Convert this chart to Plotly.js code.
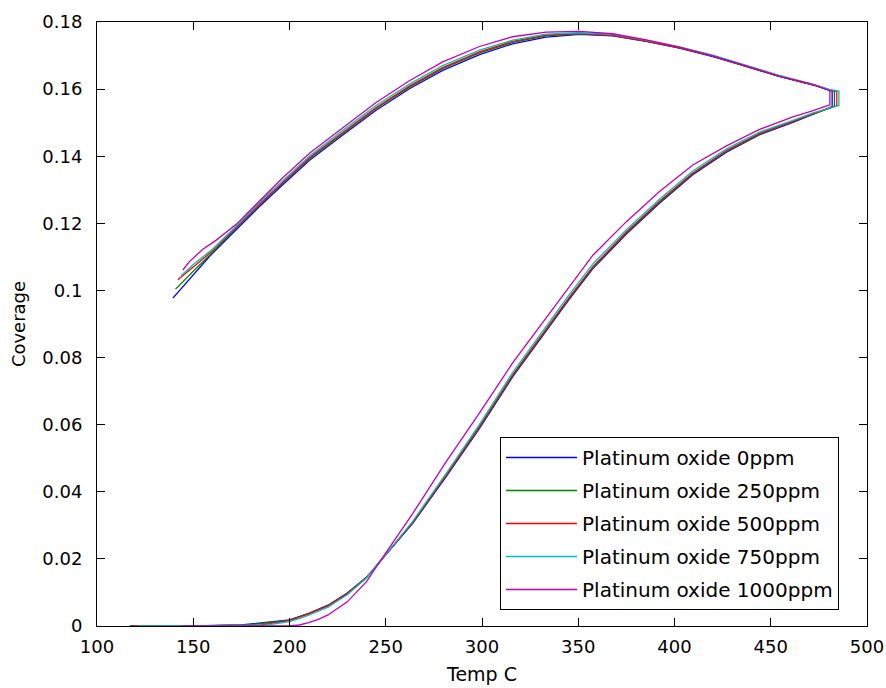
<!DOCTYPE html>
<html>
<head>
<meta charset="utf-8">
<script src="https://cdn.plot.ly/plotly-3.0.1.min.js"></script>
<style>html,body{margin:0;padding:0;background:#fff;}#chart{width:886px;height:688px;}</style>
</head>
<body>
<div id="chart"></div>
<script>
// ---- Data ----
const seriesNames = ['Platinum oxide 0ppm','Platinum oxide 250ppm','Platinum oxide 500ppm','Platinum oxide 750ppm','Platinum oxide 1000ppm'];
const seriesColors = ['#0000FF','#008000','#FF0000','#00BFBF','#BF00BF'];

// 0 ppm
const t0 = [117,150,175,188,200,205,210,220,230,240,248.5,264,281.4,298.7,316,330,345.5,357.6,375,392.2,409.5,427,444.2,461.5,472,481.9,
            481.9,480.5,471.8,454.5,437.2,419.9,402.6,385.3,367.9,350.6,333.3,315.9,298.7,279.6,262.3,245,227.7,210.4,196.5,184.4,172.3,158.4,139.4];
const c0 = [0,0,0.0003,0.001,0.0018,0.0028,0.0038,0.0062,0.0098,0.0145,0.0202,0.0306,0.0445,0.0589,0.0743,0.0853,0.0975,0.1065,0.1168,0.1260,0.1345,0.1412,0.1464,0.1501,0.1524,0.1548,
            0.1594,0.1597,0.1613,0.1638,0.1668,0.1697,0.1722,0.1742,0.1759,0.1763,0.1755,0.1735,0.1703,0.1656,0.1601,0.1537,0.1463,0.1388,0.1315,0.1250,0.1181,0.1101,0.0977];

// 250 ppm
const t1 = [118,150,178,190,200,205,210,220,230,240,248.5,264,281.4,298.7,316,330,345.5,357.6,375,392.2,409.5,427,444.2,461.5,472,483.1,
            483.1,480.5,471.8,454.5,437.2,419.9,402.6,385.3,367.9,350.6,333.3,315.9,298.7,279.6,262.3,245,227.7,210.4,196.5,184.4,172.3,160,150,140.8];
const c1 = [0,0,0.0003,0.001,0.0017,0.0027,0.0037,0.0061,0.0097,0.0145,0.0203,0.0308,0.0448,0.0592,0.0746,0.0856,0.0978,0.1068,0.1171,0.1263,0.1348,0.1415,0.1466,0.1503,0.1526,0.1549,
            0.1593,0.1597,0.1613,0.1638,0.1668,0.1698,0.1723,0.1743,0.1760,0.1765,0.1759,0.1739,0.1708,0.1661,0.1606,0.1542,0.1468,0.1393,0.1320,0.1255,0.1186,0.1113,0.1057,0.1004];

// 500 ppm
const t2 = [119.5,150,185,193,200,205,210,220,230,240,248.5,264,281.4,298.7,316,330,345.5,357.6,375,392.2,409.5,427,444.2,461.5,472,484.3,
            484.3,480.5,471.8,454.5,437.2,419.9,402.6,385.3,367.9,350.6,333.3,315.9,298.7,279.6,262.3,245,227.7,210.4,196.5,184.4,172.3,160,150,142];
const c2 = [0,0,0.0003,0.0009,0.0016,0.0026,0.0036,0.006,0.0096,0.0144,0.0203,0.0309,0.045,0.0595,0.0749,0.0859,0.0981,0.1071,0.1174,0.1266,0.1350,0.1417,0.1468,0.1504,0.1527,0.1550,
            0.1593,0.1597,0.1613,0.1638,0.1668,0.1698,0.1723,0.1743,0.1760,0.1766,0.1761,0.1742,0.1711,0.1664,0.1609,0.1545,0.1471,0.1396,0.1322,0.1257,0.1188,0.1118,0.1070,0.1032];

// 750 ppm
const t3 = [121,150,188,195,200,205,210,220,230,240,248.5,264,281.4,298.7,316,330,345.5,357.6,375,392.2,409.5,427,444.2,461.5,472,485.4,
            485.4,480.5,471.8,454.5,437.2,419.9,402.6,385.3,367.9,350.6,333.3,315.9,298.7,279.6,262.3,245,227.7,210.4,196.5,184.4,172.3,160,150,143.7];
const c3 = [0,0,0.0003,0.0008,0.0013,0.0022,0.0032,0.0056,0.0093,0.0143,0.0204,0.0312,0.0455,0.0601,0.0756,0.0866,0.0989,0.1079,0.1181,0.1272,0.1356,0.1422,0.1472,0.1507,0.1529,0.1551,
            0.1594,0.1599,0.1615,0.1641,0.1671,0.1701,0.1726,0.1746,0.1763,0.1768,0.1764,0.1746,0.1716,0.1670,0.1615,0.1551,0.1477,0.1401,0.1327,0.1262,0.1192,0.1123,0.1077,0.1044];

// 1000 ppm
const t4 = [144,200,205,210,215,220,230,240,248.5,264,281.4,298.7,316,330,345.5,357.6,375,392.2,409.5,427,444.2,461.5,472,480.7,
            480.7,480,471.8,454.5,437.2,419.9,402.6,385.3,367.9,350.6,333.3,315.9,298.7,279.6,262.3,245,227.7,210.4,196.5,184.4,172.3,162,155,148,144.6];
const c4 = [0,0,0.0003,0.001,0.002,0.0033,0.0072,0.0132,0.0205,0.0335,0.049,0.0635,0.0785,0.0893,0.1015,0.1105,0.1205,0.1295,0.1374,0.1431,0.1480,0.1517,0.1536,0.1553,
            0.1593,0.1597,0.1614,0.1639,0.1669,0.1699,0.1725,0.1747,0.1765,0.1772,0.1770,0.1756,0.1727,0.1681,0.1625,0.1560,0.1485,0.1409,0.1336,0.1268,0.1197,0.1150,0.1123,0.1086,0.1061];

const xTickVals = [100,150,200,250,300,350,400,450,500];
const xTickText = ['100','150','200','250','300','350','400','450','500'];
const yTickVals = [0,0.02,0.04,0.06,0.08,0.1,0.12,0.14,0.16,0.18];
const yTickText = ['0','0.02','0.04','0.06','0.08','0.1','0.12','0.14','0.16','0.18'];

const allT = [t0,t1,t2,t3,t4];
const allC = [c0,c1,c2,c3,c4];

const traces = allT.map((t,i) => ({
  type: 'scatter', mode: 'lines',
  x: t, y: allC[i],
  name: seriesNames[i],
  legendgroup: 'g' + i,
  line: {color: seriesColors[i], width: 1.3},
  hoverinfo: 'skip'
}));

const axisCommon = {
  ticks: 'inside', ticklen: 8, tickwidth: 1, tickcolor: '#000',
  showline: true, linecolor: '#000', linewidth: 1, mirror: 'ticks',
  showgrid: false, zeroline: false,
  tickfont: {family: 'DejaVu Sans', size: 18, color: '#000'}
};

const layout = {
  width: 886, height: 688,
  margin: {l: 97, r: 19, t: 22, b: 62, pad: 0},
  paper_bgcolor: '#fff', plot_bgcolor: '#fff',
  font: {family: 'DejaVu Sans', size: 18, color: '#000'},
  showlegend: true,
  xaxis: Object.assign({}, axisCommon, {
    range: [100, 500], tickmode: 'array', tickvals: xTickVals, ticktext: xTickText,
    ticklabelstandoff: 4,
    title: {text: 'Temp C', font: {family: 'DejaVu Sans', size: 19, color: '#000'}, standoff: 12}
  }),
  yaxis: Object.assign({}, axisCommon, {
    range: [0, 0.18], tickmode: 'array', tickvals: yTickVals, ticktext: yTickText,
    ticklabelstandoff: 10,
    title: {text: 'Coverage', font: {family: 'DejaVu Sans', size: 18, color: '#000'}, standoff: 12}
  }),
  legend: {
    x: 0.5234, y: 0.0265, xanchor: 'left', yanchor: 'bottom',
    bordercolor: '#000', borderwidth: 1, bgcolor: '#fff',
    font: {family: 'DejaVu Sans', size: 20, color: '#000'},
    itemwidth: 71, tracegroupgap: 4, traceorder: 'grouped'
  }
};

Plotly.newPlot('chart', traces, layout, {staticPlot: true, displayModeBar: false});
</script>
</body>
</html>
